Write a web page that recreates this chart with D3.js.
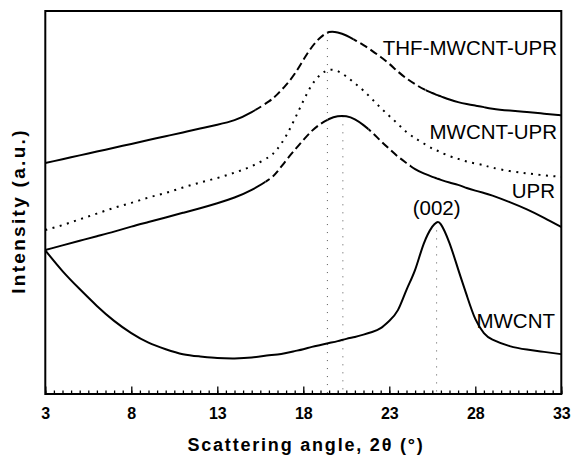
<!DOCTYPE html>
<html>
<head>
<meta charset="utf-8">
<script src="https://cdn.jsdelivr.net/npm/d3@7"></script>
<style>
  html, body { margin: 0; padding: 0; background: #fff; }
  svg { display: block; }
  text { font-family: "Liberation Sans", Arial, sans-serif; fill: #000; }
</style>
</head>
<body>
<svg id="chart" width="573" height="457"></svg>
<script>
// Scattering angle (2θ, degrees) sampled for every pattern
const angles = [3, 4, 5, 6, 7, 8, 9, 10, 11, 12, 13, 14, 15,
  16, 16.5, 17, 17.5, 18, 18.5, 19, 19.5, 20, 20.5, 21, 21.5, 22, 22.5,
  23, 23.5, 24, 24.5, 25, 25.5, 25.75, 26, 26.5, 27, 27.5, 28, 28.5, 29,
  30, 31, 32, 33];

// Intensities (a.u., stacked offsets)
const thfMwcntUpr = [60.3, 61.3, 62.3, 63.3, 64.3, 65.3, 66.3, 67.3, 68.3, 69.3, 70.3, 71.5, 73.6,
  76.4, 78.3, 80.7, 83.6, 87.2, 90.6, 93.1, 94.5, 94.4, 93.6, 92.4, 91.1, 89.6, 88.0,
  86.2, 84.2, 82.4, 80.9, 79.6, 78.6, 78.1, 77.7, 76.9, 76.2, 75.7, 75.3, 74.9, 74.5,
  74.0, 73.6, 73.2, 72.8];
const mwcntUpr = [42.8, 44.1, 45.6, 47.1, 48.6, 49.9, 51.3, 52.5, 53.9, 55.2, 56.4, 57.8, 59.5,
  61.9, 64.0, 67.4, 71.8, 76.5, 80.7, 83.4, 84.6, 84.3, 82.9, 81.1, 79.2, 77.0, 74.7,
  72.6, 70.5, 68.4, 66.8, 65.4, 64.1, 63.6, 63.1, 62.1, 61.4, 60.7, 60.2, 59.7, 59.1,
  58.2, 57.6, 57.1, 56.7];
const upr = [37.6, 38.8, 40.0, 41.2, 42.4, 43.7, 44.9, 46.1, 47.3, 48.5, 49.8, 51.3, 53.3,
  56.0, 58.1, 61.0, 63.7, 66.3, 68.7, 70.5, 71.8, 72.5, 72.5, 71.7, 70.2, 68.3, 66.1,
  64.0, 62.0, 60.3, 58.7, 57.6, 56.7, 56.3, 55.9, 55.2, 54.6, 53.8, 53.1, 52.5, 51.8,
  50.1, 48.2, 46.0, 43.6];
const mwcnt = [37.5, 32.1, 27.4, 23.0, 19.1, 15.9, 13.4, 11.7, 10.4, 9.8, 9.4, 9.3, 9.5,
  10.1, 10.3, 10.7, 11.2, 11.7, 12.3, 12.8, 13.3, 13.8, 14.4, 14.9, 15.5, 16.2, 17.2,
  19.1, 21.9, 27.2, 32.4, 39.2, 43.7, 44.8, 44.3, 39.4, 32.6, 25.8, 19.6, 15.9, 14.2,
  12.5, 11.6, 11.0, 10.4];

// Angular ranges where the dashed stroke of the dash-style patterns shows
const thfDashRanges = [[15.2, 19.4], [20.9, 25.1]];
const uprDashRanges = [[15.8, 19.4], [21.8, 24.2]];

// Peak markers: position and height of each dotted guide
const peakAngles = [19.4, 20.3, 25.75];
const peakTops = [94.5, 72.5, 44.8];

// Axis ticks
const majorTicks = [3, 8, 13, 18, 23, 28, 33];
const minorTicks = d3.range(3, 33.001, 0.5);

const svg = d3.select("#chart");
const plotLeft = 45.3, plotRight = 561.3, plotTop = 11, plotBottom = 394;

const x = d3.scaleLinear().domain([3, 33]).range([plotLeft, plotRight]);
const y = d3.scaleLinear().domain([0, 100]).range([plotBottom, plotTop]);

const line = d3.line()
  .x(d => x(d[0]))
  .y(d => y(d[1]))
  .curve(d3.curveNatural);

const zip = vals => angles.map((a, i) => [a, vals[i]]);

const defs = svg.append("defs");
let clipId = 0;
function clipRanges(ranges) {
  const id = "clip" + (clipId++);
  const cp = defs.append("clipPath").attr("id", id);
  ranges.forEach(r => cp.append("rect")
    .attr("x", x(r[0])).attr("y", 0)
    .attr("width", x(r[1]) - x(r[0])).attr("height", 457));
  return "url(#" + id + ")";
}
function complement(ranges) {
  const out = [];
  let start = 2;
  ranges.forEach(r => { out.push([start, r[0]]); start = r[1]; });
  out.push([start, 34]);
  return out;
}

// Dotted peak guides
svg.append("g").selectAll("line")
  .data(peakAngles)
  .join("line")
  .attr("x1", d => x(d)).attr("x2", d => x(d))
  .attr("y1", (d, i) => y(peakTops[i])).attr("y2", y(0))
  .attr("stroke", "#555").attr("stroke-width", 1)
  .attr("stroke-dasharray", "1,7");

const curves = svg.append("g").attr("fill", "none").attr("stroke", "#000")
  .attr("stroke-width", 2).attr("stroke-linejoin", "round");

// Dash-style patterns: solid where flat, dashed along the steep flanks
function dashStyled(vals, ranges) {
  curves.append("path").attr("d", line(zip(vals)))
    .attr("clip-path", clipRanges(complement(ranges)));
  curves.append("path").attr("d", line(zip(vals)))
    .attr("stroke-dasharray", "8,4")
    .attr("clip-path", clipRanges(ranges));
}
dashStyled(thfMwcntUpr, thfDashRanges);
dashStyled(upr, uprDashRanges);

curves.append("path").attr("d", line(zip(mwcntUpr)))
  .attr("stroke-dasharray", "2,5.5").attr("stroke-width", 2);

curves.append("path").attr("d", line(zip(mwcnt)));

// Frame
svg.append("rect")
  .attr("x", plotLeft).attr("y", plotTop)
  .attr("width", plotRight - plotLeft).attr("height", plotBottom - plotTop)
  .attr("fill", "none").attr("stroke", "#000").attr("stroke-width", 2);

// Bottom axis: inward minor and major ticks
const minorAxis = svg.append("g").attr("transform", `translate(0,${plotBottom})`)
  .call(d3.axisBottom(x).tickValues(minorTicks).tickSize(-3.5).tickFormat(""));
minorAxis.select(".domain").remove();
minorAxis.selectAll("line").attr("stroke-width", 1.3);

const majorAxis = svg.append("g").attr("transform", `translate(0,${plotBottom})`)
  .call(d3.axisBottom(x).tickValues(majorTicks).tickSize(-7.5).tickPadding(14));
majorAxis.select(".domain").remove();
majorAxis.selectAll("line").attr("stroke-width", 1.3);
majorAxis.selectAll("text")
  .attr("font-family", "'Liberation Sans', Arial, sans-serif")
  .attr("font-size", 16).attr("font-weight", "bold").attr("fill", "#000");

// Axis titles
svg.append("text")
  .attr("x", 306).attr("y", 451)
  .attr("text-anchor", "middle")
  .attr("font-size", 18).attr("font-weight", "bold")
  .attr("letter-spacing", 1.8)
  .text("Scattering angle, 2\u03B8 (\u00B0)");

svg.append("text")
  .attr("transform", "translate(25,211) rotate(-90)")
  .attr("text-anchor", "middle")
  .attr("font-size", 19).attr("font-weight", "bold")
  .attr("letter-spacing", 2.3)
  .text("Intensity (a.u.)");

// Pattern labels
const labels = svg.append("g").attr("font-size", 20.5);
labels.append("text").attr("x", 557).attr("y", 55).attr("text-anchor", "end").text("THF-MWCNT-UPR");
labels.append("text").attr("x", 557).attr("y", 139).attr("text-anchor", "end").text("MWCNT-UPR");
labels.append("text").attr("x", 555).attr("y", 198).attr("text-anchor", "end").text("UPR");
labels.append("text").attr("x", x(25.75)).attr("y", 215).attr("text-anchor", "middle").text("(002)");
labels.append("text").attr("x", 555).attr("y", 328).attr("text-anchor", "end").text("MWCNT");
</script>
</body>
</html>
